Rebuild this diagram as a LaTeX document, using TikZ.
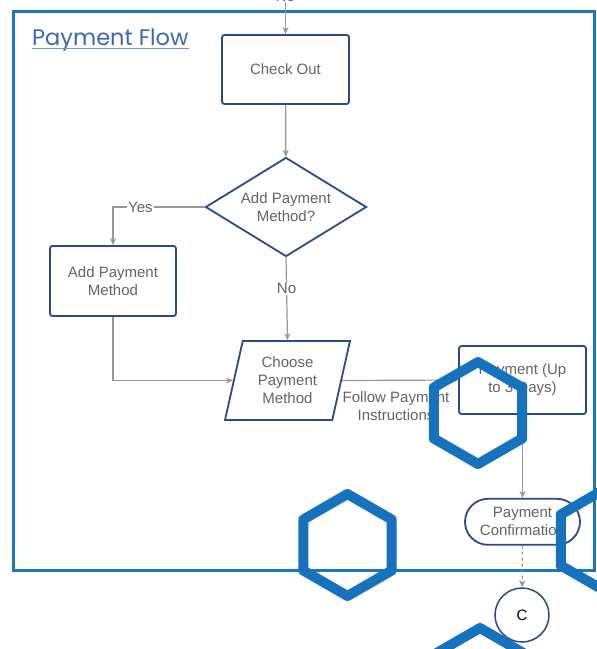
\documentclass[tikz,border=0pt]{standalone}
\usepackage{fontspec}
\setmainfont{Liberation Sans}
\newfontfamily\titlefont{Poppins}
\usetikzlibrary{positioning,shapes.geometric,arrows.meta}
\definecolor{frameblue}{RGB}{30,118,190}
\definecolor{hexblue}{RGB}{22,114,188}
\definecolor{navy}{RGB}{42,74,138}
\definecolor{textgray}{RGB}{100,100,100}
\definecolor{linegray}{RGB}{150,150,150}
\definecolor{titleblue}{RGB}{58,104,176}
\tikzset{main node/.style={draw=navy,line width=1.8pt,fill=white,text=textgray,align=center,inner sep=0pt,font=\fontsize{15}{18}\selectfont},
  box node/.style={main node,rectangle,rounded corners=2.5pt,minimum width=127pt,minimum height=69pt},
  flow/.style={draw=linegray,line width=1.2pt,-{Stealth[length=7pt,width=6pt]}},
  flow label/.style={fill=white,text=textgray,inner sep=1pt,font=\fontsize{15}{18}\selectfont},
  hexline/.style={draw=hexblue,line width=10pt,line join=round}}

\begin{document}
\begin{tikzpicture}[x=1pt,y=-1pt]
            \useasboundingbox (0,0) rectangle (597,649);
            \draw[frameblue,line width=3pt] (13,11) rectangle (594,570);
            \node[anchor=base west,text=titleblue,font=\titlefont\fontsize{22.5}{26}\selectfont,inner sep=0pt] (title) at (32,45) {Payment Flow};
            \draw[titleblue!70,line width=1pt] (title.base west) ++(0,3.5) -- (title.base east |- 0,48.5);

            \node[flow label] (toplabel) at (285.5,-4) {No};
            \node[box node] (checkout) at (285.5,69.5) {Check Out};
            \node[main node,diamond,aspect=1.63,minimum width=161pt,minimum height=99pt] (decide) at (286,207) {Add Payment\\Method?};
            \node[box node,minimum width=126pt,minimum height=70pt] (addpm) at (113,281) {Add Payment\\Method};
            \node[main node,trapezium,trapezium left angle=76,trapezium right angle=104,trapezium stretches=true,minimum width=125pt,minimum height=79pt] (choose) at (287.5,380.5) {Choose\\Payment\\Method};
            \node[box node,minimum height=68pt] (pay) at (522.5,380) {Payment (Up\\to 3 Days)};
            \node[main node,rectangle,rounded corners=23pt,minimum width=115pt,minimum height=46pt] (confirm) [below = 83pt of pay] {Payment\\Confirmation};
            \node[main node,circle,line width=1.5pt,minimum size=54pt,text=black] (connC) at (522,615) {C};

            \path[flow]
            (toplabel) edge (checkout)
            (checkout) edge (decide)
            (pay) edge (confirm)
            (confirm) edge[dashed] (connC);
            \draw[flow] (decide.south) -- node[flow label,pos=0.38] {No} (choose.north);
            \draw[flow] (decide.west) -| node[flow label,pos=0.35] {Yes} (addpm.north);
            \draw[flow] (addpm.south) |- (choose.west);
            \draw[flow] (choose.east) -- node[below,text=textgray,align=center,font=\fontsize{15}{18}\selectfont,yshift=-7pt,xshift=-4pt] {Follow Payment\\Instructions} (pay.west);

            % overlay hexagons
            \foreach \cx/\cy in {478/413, 347.5/545, 605/540, 480/679}
              \draw[hexline] (\cx,\cy) +(90:51) -- +(150:51) -- +(210:51) -- +(270:51) -- +(330:51) -- +(30:51) -- cycle;
        \end{tikzpicture}
\end{document}
